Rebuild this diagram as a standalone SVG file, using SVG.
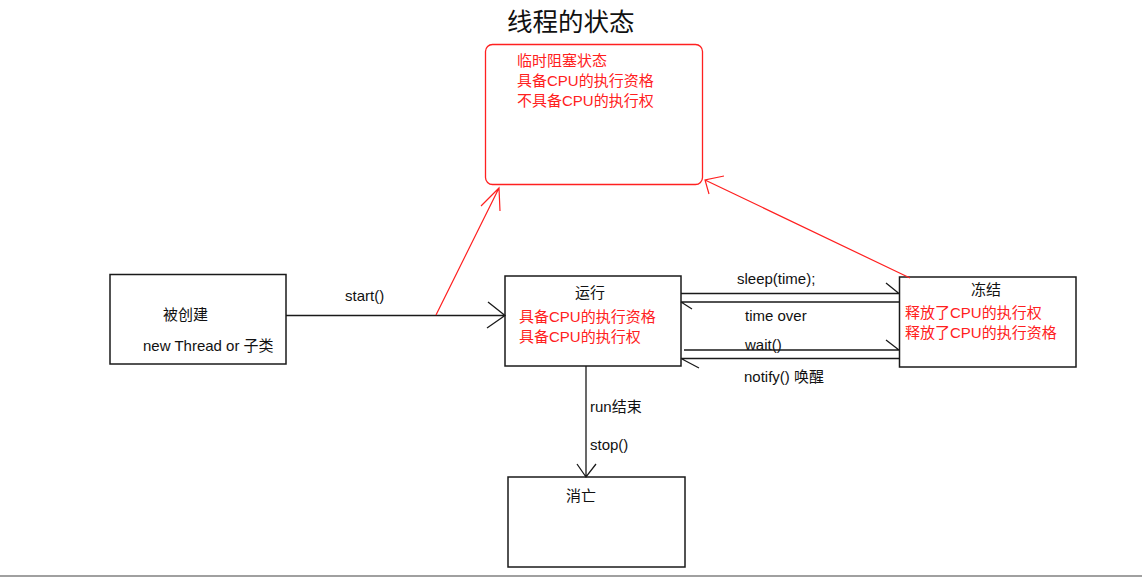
<svg xmlns="http://www.w3.org/2000/svg" width="1142" height="577" viewBox="0 0 1142 577">
<style>
text{font-family:"Liberation Sans","Noto Sans CJK SC",sans-serif;font-size:15px;fill:#111}
.r{fill:#ff2020}
.box{fill:#fff;stroke:#1a1a1a;stroke-width:1.5}
.ln{fill:none;stroke:#1a1a1a;stroke-width:1.3}
.rl{fill:none;stroke:#ff2020;stroke-width:1.2}
</style>
<rect width="1142" height="577" fill="#fff"/>
<text x="507" y="31" style="font-size:25.5px">线程的状态</text>
<g id="blocked">
<rect x="485.5" y="44.5" width="217" height="140" rx="7" fill="#fff" stroke="#ff2020" stroke-width="1.3"/>
<text class="r" x="517" y="66">临时阻塞状态</text>
<text class="r" x="517" y="86">具备CPU的执行资格</text>
<text class="r" x="517" y="106">不具备CPU的执行权</text>
</g>
<g id="created">
<rect class="box" x="110" y="274.5" width="176" height="89.5"/>
<text x="163" y="320">被创建</text>
<text x="143" y="351">new Thread or 子类</text>
</g>
<g id="running">
<rect class="box" x="505" y="276" width="176" height="90"/>
<text x="575" y="298">运行</text>
<text class="r" x="519" y="322">具备CPU的执行资格</text>
<text class="r" x="519" y="342">具备CPU的执行权</text>
</g>
<g id="frozen">
<rect class="box" x="899.5" y="277" width="176.5" height="90"/>
<text x="971" y="295">冻结</text>
<text class="r" x="905" y="318">释放了CPU的执行权</text>
<text class="r" x="905" y="338">释放了CPU的执行资格</text>
</g>
<g id="dead">
<rect class="box" x="508" y="477" width="177" height="90"/>
<text x="566" y="501">消亡</text>
</g>
<g id="connectors">
<path class="ln" d="M286 315.5H505M488 302L505 315.5L487 328"/>
<text x="345" y="301">start()</text>
<path class="rl" d="M436 315L499 188M481 206L499 188L500 211"/>
<path class="rl" d="M910 278L705 180M724 176L705 180L709 194"/>
<path class="ln" d="M681 293.5H899M886 283L899 293.5"/>
<text x="737" y="284">sleep(time);</text>
<path class="ln" d="M899 302H681M692 309L681 302"/>
<text x="745" y="321">time over</text>
<path class="ln" d="M684 350H899M886 340L899 350"/>
<text x="745" y="350">wait()</text>
<path class="ln" d="M899 358.5H681M699 368L681 358.5"/>
<text x="744" y="382">notify() 唤醒</text>
<path class="ln" d="M586 366V477M577 464L586 477L596 464"/>
<text x="590" y="412">run结束</text>
<text x="590" y="450">stop()</text>
</g>
<rect x="0" y="575" width="1142" height="2" fill="#a0a0a0"/>
</svg>
